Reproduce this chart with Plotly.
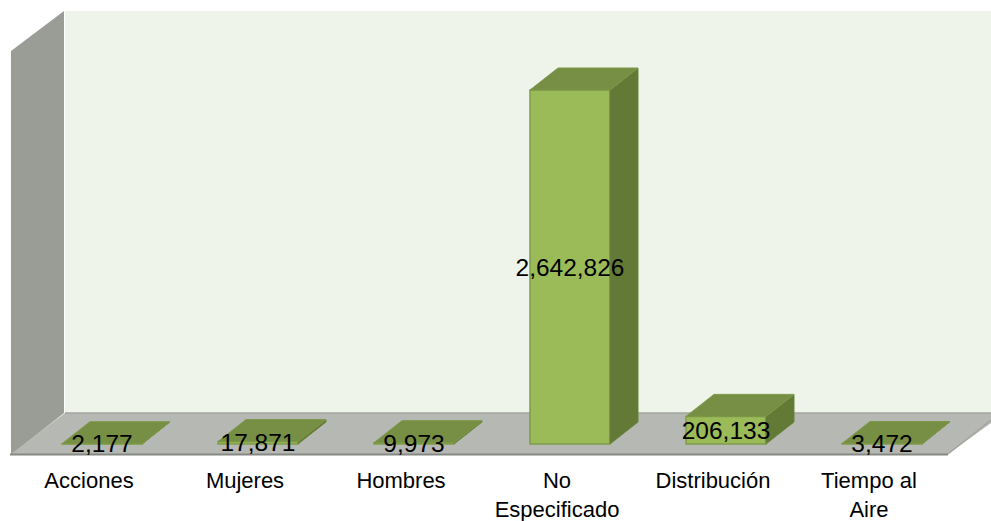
import plotly.graph_objects as go

categories = ["Acciones", "Mujeres", "Hombres", "No<br>Especificado", "Distribución", "Tiempo al<br>Aire"]
values = [2177, 17871, 9973, 2642826, 206133, 3472]
labels = ["2,177", "17,871", "9,973", "2,642,826", "206,133", "3,472"]

W, H = 991, 521
STEP_PX = 156.0
FIRST_PX = 89.0
BASE_PX = 444.0
AXIS_PX = 465.0
UNITS_PER_PX = 2642826 / 354.0

positions = list(range(len(categories)))
shift = 13 / STEP_PX
bar_w = 80 / STEP_PX
depth_x = 28 / STEP_PX
depth_y = 22 * UNITS_PER_PX
label_drop = 2.5 * UNITS_PER_PX

FONT = "Liberation Sans"

top_x, top_y, side_x, side_y = [], [], [], []
for p, v in zip(positions, values):
    l = p + shift - bar_w / 2
    r = p + shift + bar_w / 2
    top_x += [l, r, r + depth_x, l + depth_x, l, None]
    top_y += [v, v, v + depth_y, v + depth_y, v, None]
    side_x += [r, r + depth_x, r + depth_x, r, r, None]
    side_y += [0, depth_y, v + depth_y, v, 0, None]

fig = go.Figure()
fig.add_trace(go.Bar(
    x=[p + shift for p in positions], y=values, width=bar_w,
    marker=dict(color="#9BBB59", line=dict(color="#7F9C48", width=1.5)),
    hoverinfo="skip",
))
fig.add_trace(go.Scatter(
    x=side_x, y=side_y, mode="lines", fill="toself", fillcolor="#637936",
    line=dict(color="#6B833C", width=1), hoverinfo="skip",
))
fig.add_trace(go.Scatter(
    x=top_x, y=top_y, mode="lines", fill="toself", fillcolor="#778F44",
    line=dict(color="#7C9846", width=1), hoverinfo="skip",
))
fig.add_trace(go.Scatter(
    x=[p + shift for p in positions], y=[v / 2 - label_drop for v in values],
    mode="text", text=labels, textposition="middle center",
    textfont=dict(family=FONT, size=24.5, color="#000000"), hoverinfo="skip",
))

def px_path(points):
    return "M " + " L ".join(f"{x / W:.5f},{1 - y / H:.5f}" for x, y in points) + " Z"

def wall(points, fill, line=None, width=0):
    return dict(type="path", xref="paper", yref="paper", path=px_path(points),
                fillcolor=fill, line=dict(color=line or fill, width=width), layer="below")

shapes = [
    wall([(65, 11), (991, 11), (991, 413), (65, 413)], "#EFF4EA"),
    wall([(11, 51), (64, 11), (64, 413), (11, 455)], "#9A9C96"),
    wall([(11, 454), (65, 413), (1005, 413), (948, 454)], "#B6B8B3"),
    dict(type="line", xref="paper", yref="paper", x0=65 / W, x1=1, y0=1 - 413 / H, y1=1 - 413 / H,
         line=dict(color="#A3A59F", width=1.5), layer="below"),
    dict(type="line", xref="paper", yref="paper", x0=10 / W, x1=948 / W, y0=1 - 454.5 / H, y1=1 - 454.5 / H,
         line=dict(color="#868884", width=2), layer="below"),
    dict(type="line", xref="paper", yref="paper", x0=948 / W, x1=1, y0=1 - 454 / H, y1=1 - 420 / H,
         line=dict(color="#A3A59F", width=1.5), layer="below"),
]

fig.update_layout(
    width=W, height=H, margin=dict(l=0, r=0, t=0, b=0),
    paper_bgcolor="#FFFFFF", plot_bgcolor="rgba(0,0,0,0)",
    showlegend=False, shapes=shapes,
    xaxis=dict(
        domain=[0, 1], range=[-FIRST_PX / STEP_PX, (W - FIRST_PX) / STEP_PX],
        tickmode="array", tickvals=positions, ticktext=categories, ticks="",
        showgrid=False, zeroline=False, showline=False, automargin=False,
        tickfont=dict(family=FONT, size=22, color="#000000"),
    ),
    yaxis=dict(
        domain=[1 - AXIS_PX / H, 1],
        range=[-(AXIS_PX - BASE_PX) * UNITS_PER_PX, BASE_PX * UNITS_PER_PX],
        visible=False, showgrid=False, zeroline=False, automargin=False,
    ),
)

fig.write_html("out.html", config=dict(displayModeBar=False),
               post_script="document.body.style.margin='0';document.body.style.overflow='hidden';")
